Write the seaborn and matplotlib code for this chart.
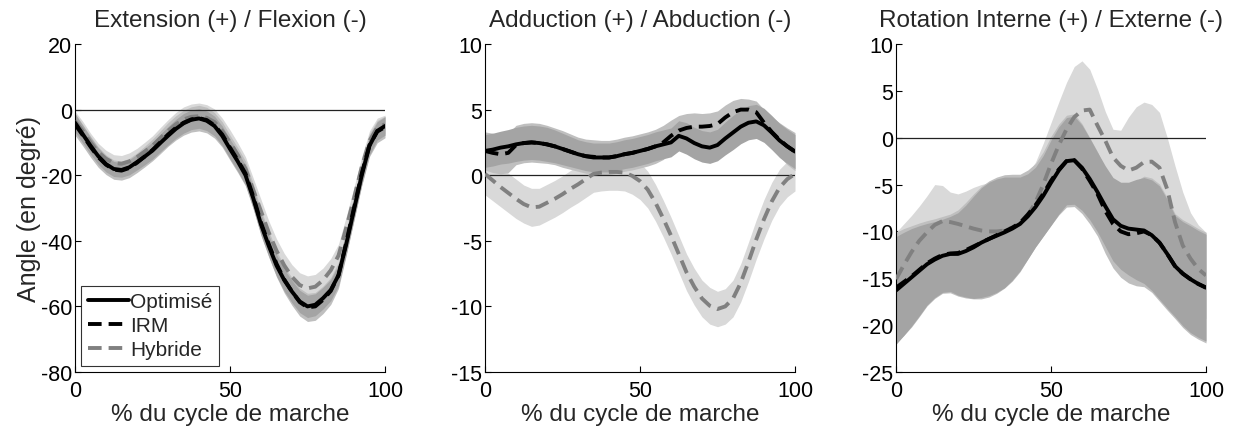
import numpy as np
import pandas as pd
import matplotlib
matplotlib.use("Agg")
import matplotlib.pyplot as plt
from matplotlib.lines import Line2D
import seaborn as sns

sns.set_style("white")
plt.rcParams['font.family'] = ['Liberation Sans', 'DejaVu Sans']
plt.rcParams['axes.unicode_minus'] = False

# --- données : % du cycle de marche, pas de 2.5 % ---
cycle = np.arange(0, 100.1, 2.5)

# Extension (+) / Flexion (-)
flex_opt = [-4, -7.5, -11, -14.2, -16.6, -18.1, -18.4, -17.6, -16, -14.3, -12.5, -10.2, -8, -5.9, -4.2, -3.1,
            -2.7, -3.4, -5, -8, -12, -15.8, -20, -27, -35, -41.5, -47.5, -52, -55.5, -58.5, -60, -59.5,
            -57.5, -55, -50.5, -41, -30.5, -20, -11, -6.5, -5]
flex_irm = [-4.5, -7.8, -11.3, -14.5, -16.8, -18.3, -18.6, -17.8, -16.2, -14.3, -12.3, -10.0, -7.6, -5.6, -4.0, -3.0,
            -2.6, -3.2, -4.8, -7.6, -11.6, -15.4, -19.5, -26.5, -34.5, -41, -47, -51.8, -55.5, -58.7, -60.3, -60,
            -58, -55.3, -50.5, -40.5, -30, -19.5, -10.8, -6.7, -5.3]
flex_hyb = [-3.5, -6.5, -10, -13, -15, -16.3, -16.5, -15.8, -14.5, -12.8, -11, -8.7, -6.5, -4.5, -3, -2.2,
            -2, -2.5, -3.8, -6.5, -10, -13.8, -18, -24.5, -31, -37.5, -43, -47.5, -51, -53.5, -54.5, -54,
            -52, -49, -44.5, -36, -27, -17.5, -9.5, -5.5, -4.5]
flex_opt_sd = [2.8, 2.7, 2.6, 2.5, 2.4, 2.3, 2.2, 2.3, 2.4, 2.5, 2.6, 2.7, 2.8, 2.9, 3.0, 3.0,
               3.0, 3.0, 3.0, 3.0, 3.0, 3.0, 3.0, 3.1, 3.2, 3.25, 3.3, 3.35, 3.4, 3.4, 3.4, 3.35,
               3.3, 3.25, 3.2, 3.1, 3.0, 2.9, 2.8, 2.8, 2.8]
flex_irm_sd = [3.3, 3.25, 3.2, 3.1, 3.0, 2.95, 2.9, 2.95, 3.0, 3.15, 3.3, 3.45, 3.6, 3.7, 3.8, 3.85,
               3.9, 3.9, 3.9, 3.85, 3.8, 3.8, 3.8, 3.85, 3.9, 3.95, 4.0, 4.1, 4.2, 4.25, 4.3, 4.25,
               4.2, 4.1, 4.0, 3.9, 3.8, 3.65, 3.5, 3.4, 3.3]
flex_hyb_sd = [3.0, 2.9, 2.8, 2.7, 2.6, 2.55, 2.5, 2.6, 2.7, 2.85, 3.0, 3.2, 3.4, 3.6, 3.8, 3.9,
               4.0, 4.0, 4.0, 3.9, 3.8, 3.7, 3.6, 3.6, 3.6, 3.6, 3.6, 3.65, 3.7, 3.75, 3.8, 3.75,
               3.7, 3.6, 3.5, 3.4, 3.3, 3.15, 3.0, 2.9, 2.8]

# Adduction (+) / Abduction (-)
abd_opt = [1.85, 1.95, 2.1, 2.2, 2.35, 2.45, 2.5, 2.45, 2.35, 2.2, 2.0, 1.8, 1.6, 1.45, 1.35, 1.35,
           1.35, 1.45, 1.6, 1.7, 1.85, 2.0, 2.2, 2.35, 2.5, 3.0, 2.8, 2.45, 2.2, 2.1, 2.3, 2.8,
           3.25, 3.7, 4.0, 4.1, 3.8, 3.25, 2.65, 2.2, 1.8]
abd_irm = [1.85, 1.7, 1.6, 1.7, 2.3, 2.45, 2.5, 2.45, 2.35, 2.2, 2.0, 1.8, 1.6, 1.45, 1.4, 1.35,
           1.35, 1.45, 1.6, 1.7, 1.85, 2.0, 2.2, 2.5, 3.0, 3.4, 3.6, 3.7, 3.7, 3.75, 3.9, 4.4,
           4.8, 5.0, 5.0, 4.8, 4.0, 3.3, 2.7, 2.2, 1.8]
abd_hyb = [0.1, -0.4, -0.9, -1.35, -1.8, -2.2, -2.45, -2.4, -2.1, -1.8, -1.45, -1.05, -0.7, -0.3, 0.1, 0.2,
           0.25, 0.25, 0.2, -0.05, -0.45, -1.1, -2.1, -3.3, -4.6, -6.0, -7.4, -8.5, -9.4, -9.95, -10.2, -10.0,
           -9.4, -8.2, -6.6, -4.9, -3.35, -2.0, -0.95, -0.3, 0.1]
abd_opt_sd = [1.25, 1.25, 1.25, 1.28, 1.3, 1.3, 1.3, 1.3, 1.3, 1.25, 1.2, 1.15, 1.1, 1.1, 1.1, 1.1,
              1.1, 1.1, 1.1, 1.1, 1.1, 1.1, 1.1, 1.1, 1.1, 1.15, 1.2, 1.2, 1.2, 1.2, 1.2, 1.25,
              1.3, 1.3, 1.3, 1.3, 1.3, 1.3, 1.3, 1.3, 1.3]
abd_irm_sd = [1.45, 1.5, 1.5, 1.5, 1.5, 1.5, 1.5, 1.5, 1.45, 1.4, 1.4, 1.35, 1.3, 1.3, 1.3, 1.3,
              1.3, 1.3, 1.3, 1.3, 1.3, 1.3, 1.3, 1.3, 1.2, 1.15, 1.1, 1.05, 1.0, 1.0, 1.0, 0.95,
              0.9, 0.85, 0.8, 0.85, 1.0, 1.15, 1.3, 1.4, 1.45]
abd_hyb_sd = [1.6, 1.55, 1.5, 1.5, 1.5, 1.45, 1.45, 1.4, 1.4, 1.4, 1.4, 1.4, 1.4, 1.4, 1.4, 1.4,
              1.4, 1.4, 1.4, 1.4, 1.4, 1.4, 1.4, 1.4, 1.4, 1.4, 1.4, 1.4, 1.4, 1.4, 1.35, 1.35,
              1.4, 1.45, 1.5, 1.5, 1.5, 1.45, 1.4, 1.35, 1.3]

# Rotation interne (+) / externe (-)
rot_opt = [-16.3, -15.6, -14.9, -14.2, -13.5, -13.0, -12.6, -12.4, -12.4, -12.1, -11.7, -11.2, -10.8, -10.45, -10.1, -9.7,
           -9.2, -8.4, -7.4, -6.2, -4.8, -3.5, -2.5, -2.4, -3.2, -4.4, -5.8, -7.3, -8.7, -9.4, -9.7, -9.8,
           -9.9, -10.4, -11.2, -12.4, -13.7, -14.5, -15.1, -15.6, -16.0]
rot_irm = [-16.0, -15.4, -14.8, -14.1, -13.4, -12.9, -12.5, -12.35, -12.3, -12.0, -11.6, -11.2, -10.8, -10.4, -10.0, -9.6,
           -9.1, -8.2, -7.2, -6.0, -4.6, -3.4, -2.5, -2.4, -3.3, -4.6, -6.0, -7.8, -9.2, -10.0, -10.3, -10.2,
           -10.0, -10.4, -11.2, -12.4, -13.7, -14.5, -15.1, -15.6, -16.0]
rot_hyb = [-15.1, -13.6, -12.2, -11.0, -10.1, -9.3, -8.9, -9.0, -9.2, -9.45, -9.7, -9.9, -10.0, -10.0, -9.9, -9.6,
           -9.2, -8.3, -6.9, -5.0, -2.8, -0.8, 0.9, 2.2, 2.9, 3.0, 1.3, -0.3, -2.1, -3.0, -3.5, -3.2,
           -2.6, -2.55, -3.2, -5.5, -9.0, -11.5, -12.9, -14.0, -14.7]
rot_opt_sd = [5.75, 5.5, 5.2, 4.8, 4.35, 4.05, 3.9, 4.0, 4.4, 4.9, 5.45, 5.85, 6.05, 6.05, 5.9, 5.5,
              5.0, 4.55, 4.25, 4.3, 4.55, 4.65, 4.65, 4.7, 4.55, 4.35, 4.25, 4.3, 4.45, 4.65, 4.95, 5.35,
              5.65, 5.9, 6.05, 5.8, 5.4, 5.55, 5.7, 5.7, 5.7]
rot_irm_sd = [5.9, 5.7, 5.4, 5.0, 4.55, 4.25, 4.1, 4.2, 4.6, 5.1, 5.6, 6.0, 6.2, 6.2, 6.05, 5.7,
              5.2, 4.75, 4.45, 4.5, 4.75, 4.85, 4.9, 4.95, 4.8, 4.6, 4.5, 4.55, 4.7, 4.9, 5.2, 5.6,
              5.9, 6.1, 6.25, 6.0, 5.6, 5.75, 5.9, 5.9, 5.9]
rot_hyb_sd = [5.0, 4.4, 3.9, 3.7, 3.9, 4.3, 3.8, 3.2, 3.2, 3.75, 4.4, 4.9, 5.2, 5.5, 5.5, 5.2,
              4.8, 4.5, 4.3, 4.4, 4.4, 4.6, 5.0, 5.4, 5.3, 4.3, 3.9, 3.1, 3.0, 3.8, 5.7, 6.5,
              6.4, 6.1, 5.9, 5.5, 6.0, 5.7, 4.9, 4.7, 4.6]

titles = ['Extension (+) / Flexion (-)', 'Adduction (+) / Abduction (-)', 'Rotation Interne (+) / Externe (-)']
ylims = [(-80, 20), (-15, 10), (-25, 10)]
yticks = [np.arange(-80, 21, 20), np.arange(-15, 11, 5), np.arange(-25, 11, 5)]

panels = [
    {'Optimisé': (flex_opt, flex_opt_sd), 'IRM': (flex_irm, flex_irm_sd), 'Hybride': (flex_hyb, flex_hyb_sd)},
    {'Optimisé': (abd_opt, abd_opt_sd), 'IRM': (abd_irm, abd_irm_sd), 'Hybride': (abd_hyb, abd_hyb_sd)},
    {'Optimisé': (rot_opt, rot_opt_sd), 'IRM': (rot_irm, rot_irm_sd), 'Hybride': (rot_hyb, rot_hyb_sd)},
]
for p in panels:
    for k, (m, sd) in p.items():
        assert len(m) == len(cycle) and len(sd) == len(cycle), k

band_colors = {'Hybride': '#d9d9d9', 'IRM': '#bfbfbf', 'Optimisé': '#a4a4a4'}
line_colors = {'Optimisé': 'black', 'IRM': 'black', 'Hybride': '#808080'}
dash_pat = {'Optimisé': '', 'IRM': (3.5, 1.8), 'Hybride': (3.5, 1.8)}

fig = plt.figure(figsize=(12.34, 4.31), dpi=100)
lefts = [75 / 1234, 485 / 1234, 896 / 1234]
w, h = 310 / 1234, 328 / 431
bottom = 58 / 431

for i, data in enumerate(panels):
    ax = fig.add_axes([lefts[i], bottom, w, h])

    # bandes d'écart-type
    for model in ['Hybride', 'IRM', 'Optimisé']:
        m, sd = np.array(data[model][0]), np.array(data[model][1])
        ax.fill_between(cycle, m - sd, m + sd, color=band_colors[model], lw=0, zorder=1)

    ax.axhline(0, color='#222222', lw=0.9, zorder=2)

    rows = []
    for model in ['Hybride', 'Optimisé', 'IRM']:
        for c, v in zip(cycle, data[model][0]):
            rows.append({'cycle': c, 'angle': v, 'Modèle': model})
    df = pd.DataFrame(rows)
    sns.lineplot(data=df, x='cycle', y='angle', hue='Modèle', style='Modèle',
                 hue_order=['Hybride', 'Optimisé', 'IRM'], palette=line_colors,
                 dashes=dash_pat, linewidth=2.8, legend=False, ax=ax, zorder=3)

    ax.set_xlim(0, 100)
    ax.set_ylim(*ylims[i])
    ax.set_xticks([0, 50, 100])
    ax.set_yticks(yticks[i])
    ax.set_title(titles[i], fontsize=17.5, pad=13)
    ax.set_xlabel('% du cycle de marche', fontsize=17.5, labelpad=1)
    ax.set_ylabel('Angle (en degré)' if i == 0 else '', fontsize=18, labelpad=0)
    ax.tick_params(direction='in', length=4, width=0.8, labelsize=15.5,
                   left=True, bottom=True, colors='black')
    ax.tick_params(axis='x', pad=6)
    ax.tick_params(axis='y', pad=2)
    for s in ['top', 'right']:
        ax.spines[s].set_visible(False)
    for s in ['left', 'bottom']:
        ax.spines[s].set_color('black')
        ax.spines[s].set_linewidth(0.8)

    if i == 0:
        handles = [Line2D([], [], color='black', lw=2.8),
                   Line2D([], [], color='black', lw=2.8, dashes=(3.5, 1.8)),
                   Line2D([], [], color='#808080', lw=2.8, dashes=(3.5, 1.8))]
        leg = ax.legend(handles, ['Optimisé', 'IRM', 'Hybride'], loc='lower left',
                        fontsize=15, frameon=True, fancybox=False, handlelength=2.0,
                        handletextpad=0.05, borderpad=0.3, labelspacing=0.25,
                        borderaxespad=0.3)
        leg.get_frame().set_edgecolor('black')
        leg.get_frame().set_linewidth(0.8)

fig.savefig('out.png', dpi=100)
